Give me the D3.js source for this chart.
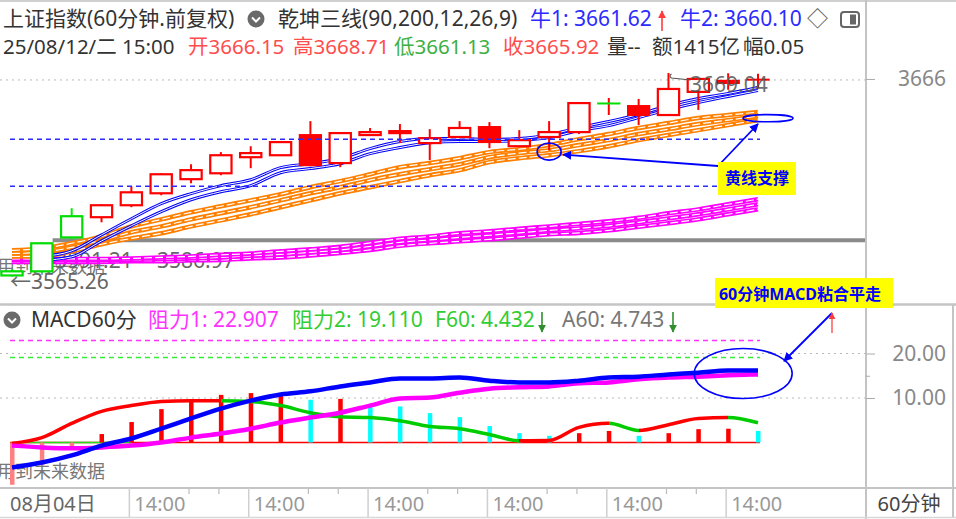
<!DOCTYPE html>
<html><head><meta charset="utf-8">
<script src="https://cdn.jsdelivr.net/npm/d3@7"></script>
<style>
html,body{margin:0;padding:0;background:#fff;overflow:hidden;}
svg{display:block;}
text{font-family:'Noto Sans','Noto Sans CJK SC',sans-serif;}
</style></head><body>
<svg id="c" width="956" height="519"></svg>
<script>
// ---------------- DATA ----------------
const times = ["08/04 14:00","08/04 15:00","08/05 10:30","08/05 11:30","08/05 14:00","08/05 15:00",
 "08/06 10:30","08/06 11:30","08/06 14:00","08/06 15:00","08/07 10:30","08/07 11:30","08/07 14:00","08/07 15:00",
 "08/08 10:30","08/08 11:30","08/08 14:00","08/08 15:00","08/11 10:30","08/11 11:30","08/11 14:00","08/11 15:00",
 "08/12 10:30","08/12 11:30","08/12 14:00","08/12 15:00"];
const openP  = [3567.9,3582.2,3596.0,3595.5,3601.6,3607.7,3614.9,3617.9,3626.1,3627.1,3637.9,3623.1,3637.4,3638.4,3633.3,3636.4,3642.0,3631.7,3636.4,3638.9,3653.5,3652.7,3647.6,3659.4,3664.0,3666.15];
const highP  = [3568.9,3582.7,3600.1,3602.1,3611.3,3617.9,3622.5,3628.7,3631.7,3634.3,3644.5,3638.4,3641.0,3643.0,3640.4,3644.5,3644.0,3639.9,3644.5,3654.2,3656.3,3655.8,3669.04,3666.0,3668.9,3668.71];
const lowP   = [3565.26,3567.3,3584.2,3592.9,3600.6,3606.7,3612.8,3616.9,3620.5,3626.9,3621.5,3621.0,3637.4,3633.3,3624.6,3636.4,3630.7,3631.7,3629.7,3637.9,3647.6,3642.5,3647.6,3650.2,3660.5,3661.13];
const closeP = [3565.8,3567.9,3585.2,3601.6,3608.2,3617.4,3619.5,3627.1,3628.2,3633.8,3621.5,3638.4,3638.9,3639.4,3635.8,3641.0,3633.3,3634.8,3638.9,3653.7,3653.0,3647.1,3660.9,3666.0,3665.0,3665.92];
// candle kind: g = green hollow, r = red hollow, s = red solid, x = green doji body with red wick
const kStyle = ['g','g','g','r','r','r','r','r','r','r','s','r','r','r','r','r','s','r','r','r','x','s','r','r','r','s'];
// 乾坤三线: blue (牛1 / 牛2), orange three lines, magenta three lines
const bull1 = [null,3575.5,3578.3,3586.5,3594.7,3602.4,3607.5,3611.6,3614.6,3620.8,3622.8,3625.4,3630.5,3634.1,3635.6,3635.6,3635.1,3635.6,3637.6,3641.2,3644.3,3647.9,3652.5,3656.0,3658.6,3661.62];
const bull2 = [null,3573.5,3575.3,3583.4,3591.1,3598.3,3604.4,3608.5,3611.6,3618.2,3620.3,3622.8,3627.9,3631.0,3633.5,3634.1,3634.1,3634.6,3636.1,3639.7,3642.2,3646.3,3650.4,3654.0,3657.1,3660.10];
const orange1 = [3578.6,3579.6,3582.2,3585.7,3590.8,3594.4,3598.0,3601.1,3604.1,3607.2,3610.8,3613.9,3617.4,3621.0,3623.1,3625.6,3628.7,3630.2,3632.3,3635.3,3637.9,3641.0,3643.5,3646.1,3647.6,3649.1];
const orange2 = [3577.0,3577.6,3580.1,3583.7,3587.8,3590.8,3594.4,3597.5,3600.6,3604.1,3607.7,3610.8,3614.4,3617.4,3620.0,3622.5,3626.1,3628.2,3629.7,3632.3,3634.8,3637.9,3640.4,3643.0,3645.0,3647.1];
const orange3 = [3575.5,3575.5,3578.1,3581.7,3584.7,3587.3,3590.8,3593.9,3597.0,3600.6,3604.1,3607.7,3610.8,3613.9,3616.9,3619.5,3623.6,3625.6,3627.1,3629.2,3631.7,3634.8,3637.4,3639.9,3642.5,3645.0];
const pink1 = [3574.2,3574.2,3574.2,3574.2,3574.5,3575.0,3575.5,3576.3,3577.0,3578.1,3579.1,3580.4,3582.4,3584.5,3585.7,3587.3,3588.3,3589.6,3590.8,3592.1,3593.4,3595.2,3597.5,3599.5,3602.1,3604.7];
const pink2 = [3573.5,3573.5,3573.5,3573.5,3573.7,3574.0,3574.5,3575.0,3575.8,3576.5,3577.6,3578.8,3580.6,3582.7,3583.9,3585.2,3586.3,3587.5,3588.8,3589.8,3591.1,3592.9,3594.9,3597.0,3599.5,3602.1];
const pink3 = [3572.7,3572.7,3572.7,3572.7,3573.0,3573.0,3573.5,3573.7,3574.5,3575.0,3576.0,3577.3,3578.8,3580.9,3582.2,3583.2,3584.2,3585.5,3586.8,3587.5,3588.8,3590.6,3592.4,3594.4,3597.0,3599.5];
const supportLevels = [3635.3, 3611.3];
const baseLevel = 3583.7;
const priceTicks = [3666];
// MACD panel
const difV  = [-5.6,-4.5,-2.9,-0.7,0.9,3.1,5.4,7.6,9.4,10.8,11.5,12.6,13.5,14.4,14.4,14.6,13.9,13.5,13.5,13.9,14.6,14.8,15.3,15.7,16.2,16.2];
const deaV  = [-0.7,-1.1,-1.3,-1.1,-0.7,0.0,1.1,2.0,3.1,4.5,5.6,6.7,8.3,9.9,10.1,11.2,12.1,12.4,12.6,13.3,13.5,14.2,14.6,14.8,15.1,15.3];
const f60V  = [-0.2,1.1,4.3,7.0,8.3,9.2,9.4,9.4,9.2,8.3,6.7,5.8,5.6,4.9,3.6,3.1,1.8,0.4,0.45,3.4,4.3,2.7,4.0,5.4,5.6,4.43];
const histV = [-9.5,-5.1,-1.2,1.9,4.6,7.5,9.1,10.7,11.1,10.7,9.6,9.8,8.2,8.1,6.6,5.7,3.7,2.1,1.5,2.1,2.6,1.5,2.1,3.0,3.1,2.6];
const histKind = ['p','p','p','r','r','r','r','r','r','r','c','r','c','c','c','c','c','c','c','r','r','c','r','r','r','c'];
const resist1 = 22.907, resist2 = 19.110;
const macdTicks = [20, 10];
const xLabelIdx = [0,4,8,12,16,20,24];
const xLabelText = ["08月04日","14:00","14:00","14:00","14:00","14:00","14:00"];

// ---------------- SCALES ----------------
const svg = d3.select('#c');
const x = d3.scalePoint().domain(times).range([12, 758]);
const yM = d3.scaleLinear().domain([3565.26, 3669.04]).range([276.5, 73]);
const yD = d3.scaleLinear().domain([0, 20]).range([442.5, 353.5]);
const step = x.step();
const PLOT_R = 866;

svg.append('rect').attr('width',956).attr('height',519).attr('fill','#fff');
const defs = svg.append('defs');
defs.append('clipPath').attr('id','cm').append('rect').attr('x',0).attr('y',60).attr('width',PLOT_R).attr('height',243);
defs.append('clipPath').attr('id','cd').append('rect').attr('x',0).attr('y',336).attr('width',PLOT_R).attr('height',151);
defs.append('clipPath').attr('id','ch').append('rect').attr('x',0).attr('y',30).attr('width',804).attr('height',30);
function mk(id, color){
  defs.append('marker').attr('id',id).attr('viewBox','0 0 10 10').attr('refX',9).attr('refY',5)
   .attr('markerWidth',5).attr('markerHeight',5).attr('orient','auto-start-reverse')
   .append('path').attr('d','M0,0L10,5L0,10z').attr('fill',color);
}
mk('ab','#0000ff'); mk('ar','#ff3b3b'); mk('ag','#2f8f2f');

// ---------------- MAIN PANEL ----------------
const gm = svg.append('g').attr('clip-path','url(#cm)');
priceTicks.forEach(v=>gm.append('line').attr('x1',0).attr('x2',PLOT_R).attr('y1',yM(v)+1).attr('y2',yM(v)+1)
  .attr('stroke','#b8b8b8').attr('stroke-width',1).attr('stroke-dasharray','2,4'));
const lineM = d3.line().defined(d=>d!=null).curve(d3.curveMonotoneX).x((d,i)=>x(times[i])).y(d=>yM(d));
function ribbon(g, vals, color, w, iw, dash){
  g.append('path').attr('d',lineM(vals)).attr('fill','none').attr('stroke',color).attr('stroke-width',w);
  const p = g.append('path').attr('d',lineM(vals)).attr('fill','none').attr('stroke','#fff').attr('stroke-width',iw);
  if(dash) p.attr('stroke-dasharray',dash);
}
// base gray level
gm.append('line').attr('x1',x(times[1])+step*0.36).attr('x2',PLOT_R).attr('y1',yM(baseLevel)).attr('y2',yM(baseLevel))
  .attr('stroke','#8a8a8a').attr('stroke-width',4);
// texts below lines
const lbl = (g,t,xx,yy,size,fill)=>g.append('text').attr('x',xx).attr('y',yy).attr('font-size',size).attr('fill',fill||'#666').text(t);
lbl(gm,'用到未来数据',-3,273,18,'#777');
lbl(gm,'3591.21',55,268,21,'#666');
lbl(gm,'3586.97',157,268,21,'#666');
ribbon(gm,pink3,'#ff00ff',4.5,1.2,'8,3');
ribbon(gm,pink2,'#ff00ff',4.5,1.2,'8,3');
ribbon(gm,pink1,'#ff00ff',4.5,1.2,'8,3');
ribbon(gm,orange3,'#ff8000',4.5,1.2,'8,3');
ribbon(gm,orange2,'#ff8000',4.5,1.2,'8,3');
ribbon(gm,orange1,'#ff8000',4.5,1.2,'8,3');
ribbon(gm,bull2,'#0000ff',3,1,null);
ribbon(gm,bull1,'#0000ff',3,1,null);
// candles
const cw = step*0.78;
times.forEach((t,i)=>{
  const k = kStyle[i], cx = x(t);
  const col = (k==='g') ? '#00ee00' : '#ff0000';
  const bodyCol = (k==='g'||k==='x') ? '#00dd00' : '#ff0000';
  gm.append('line').attr('x1',cx).attr('x2',cx).attr('y1',yM(highP[i])).attr('y2',yM(lowP[i])).attr('stroke',col).attr('stroke-width',2);
  const top = yM(Math.max(openP[i],closeP[i])), bot = yM(Math.min(openP[i],closeP[i]));
  const h = Math.max(bot-top, 2);
  if(k==='s'){
    gm.append('rect').attr('x',cx-cw/2).attr('y',top).attr('width',cw).attr('height',h).attr('fill',bodyCol);
  } else if(k==='x'){
    gm.append('rect').attr('x',cx-cw/2).attr('y',top-1).attr('width',cw).attr('height',2).attr('fill',bodyCol);
  } else {
    gm.append('rect').attr('x',cx-cw/2+1).attr('y',top).attr('width',cw-2).attr('height',h)
      .attr('fill','#fff').attr('stroke',bodyCol).attr('stroke-width',2.2);
  }
});
// dashed support lines
supportLevels.forEach(v=>gm.append('line').attr('x1',x(times[0])-2).attr('x2',x(times[25])+2).attr('y1',yM(v)).attr('y2',yM(v))
  .attr('stroke','#2a2aff').attr('stroke-width',1.5).attr('stroke-dasharray','5,4'));
// extreme labels
lbl(gm,'←3565.26',10,289,21,'#666');
lbl(gm,'3669.04',690,92,21,'#555').attr('opacity',0.85);
gm.append('path').attr('d',`M${x(times[22])+3},74 q-3,2 0,4 L${x(times[22])+22},80`).attr('fill','none').attr('stroke','#555').attr('stroke-width',1.2);

// annotation: yellow-line support
const e1x = x(times[18]), e1y = yM(orange2[18])+1.5;
svg.append('ellipse').attr('cx',e1x).attr('cy',e1y).attr('rx',12).attr('ry',8.5).attr('fill','none').attr('stroke','#0000ff').attr('stroke-width',1.6);
svg.append('ellipse').attr('cx',x(times[25])+10).attr('cy',yM(3646)).attr('rx',25).attr('ry',3.6).attr('fill','none').attr('stroke','#0000ff').attr('stroke-width',1.6);
svg.append('line').attr('x1',718).attr('y1',166).attr('x2',e1x+14).attr('y2',e1y+3).attr('stroke','#0000ff').attr('stroke-width',1.8).attr('marker-end','url(#ab)');
svg.append('line').attr('x1',718).attr('y1',166).attr('x2',758).attr('y2',124).attr('stroke','#0000ff').attr('stroke-width',1.8).attr('marker-end','url(#ab)');
svg.append('rect').attr('x',718).attr('y',162).attr('width',78).attr('height',33).attr('fill','#ffff00');
svg.append('text').attr('x',757).attr('y',184).attr('text-anchor','middle').attr('font-size',16).attr('font-weight','bold').attr('fill','#0000ff').text('黄线支撑');

// ---------------- MACD PANEL ----------------
const gd = svg.append('g').attr('clip-path','url(#cd)');
macdTicks.forEach(v=>gd.append('line').attr('x1',0).attr('x2',PLOT_R).attr('y1',yD(v)).attr('y2',yD(v))
  .attr('stroke','#b8b8b8').attr('stroke-width',1).attr('stroke-dasharray','2,4'));
gd.append('line').attr('x1',x(times[0])-2).attr('x2',x(times[25])+2).attr('y1',yD(resist1)).attr('y2',yD(resist1))
  .attr('stroke','#ff33ff').attr('stroke-width',1.5).attr('stroke-dasharray','5,4');
gd.append('line').attr('x1',x(times[0])-2).attr('x2',x(times[25])+2).attr('y1',yD(resist2)).attr('y2',yD(resist2))
  .attr('stroke','#33ee33').attr('stroke-width',1.5).attr('stroke-dasharray','5,4');
lbl(gd,'用到未来数据',-3,478,18,'#777');
gd.append('line').attr('x1',x(times[0])-2).attr('x2',x(times[25])+2).attr('y1',yD(0)).attr('y2',yD(0)).attr('stroke','#ff0000').attr('stroke-width',1.5);
gd.append('line').attr('x1',x(times[0])).attr('x2',x(times[4])).attr('y1',yD(0)).attr('y2',yD(0)).attr('stroke','#22dd22').attr('stroke-width',1.5);
const hc = {p:'#ff8080', r:'#ff0000', c:'#00ffff'};
times.forEach((t,i)=>{
  const y0 = yD(0), y1 = yD(histV[i]);
  gd.append('rect').attr('x',x(t)-2).attr('y',Math.min(y0,y1)).attr('width',4.5).attr('height',Math.abs(y1-y0)).attr('fill',hc[histKind[i]]);
});
// F60 line: smooth curve, coloured red while rising and green while falling
const grad = defs.append('linearGradient').attr('id','fgrad').attr('gradientUnits','userSpaceOnUse')
  .attr('x1',x(times[0])).attr('x2',x(times[25])).attr('y1',0).attr('y2',0);
const span = x(times[25]) - x(times[0]);
for(let i=0;i<times.length-1;i++){
  const c = f60V[i+1]>=f60V[i] ? '#ff0000' : '#00cc00';
  grad.append('stop').attr('offset',(x(times[i])-x(times[0]))/span).attr('stop-color',c);
  grad.append('stop').attr('offset',(x(times[i+1])-x(times[0]))/span).attr('stop-color',c);
}
const lineD = d3.line().curve(d3.curveMonotoneX).x((d,i)=>x(times[i])).y(d=>yD(d));
gd.append('path').attr('d',lineD(f60V)).attr('fill','none').attr('stroke','url(#fgrad)').attr('stroke-width',3.5);
gd.append('path').attr('d',lineD(deaV)).attr('fill','none').attr('stroke','#ff00ff').attr('stroke-width',4.5);
gd.append('path').attr('d',lineD(difV)).attr('fill','none').attr('stroke','#0000ff').attr('stroke-width',4.5);
svg.append('ellipse').attr('cx',x(times[24])+15).attr('cy',yD(15.5)).attr('rx',49).attr('ry',25).attr('fill','none').attr('stroke','#0000ff').attr('stroke-width',1.6);

// ---------------- FRAME / AXES ----------------
const bc = '#c4c4c4';
svg.append('line').attr('x1',0).attr('x2',956).attr('y1',1).attr('y2',1).attr('stroke','#d0d0d0').attr('stroke-width',2);
svg.append('line').attr('x1',PLOT_R).attr('x2',PLOT_R).attr('y1',0).attr('y2',519).attr('stroke',bc).attr('stroke-width',2);
svg.append('line').attr('x1',0).attr('x2',956).attr('y1',304.5).attr('y2',304.5).attr('stroke',bc).attr('stroke-width',2.5);
svg.append('line').attr('x1',0).attr('x2',956).attr('y1',488).attr('y2',488).attr('stroke',bc).attr('stroke-width',2);
svg.append('line').attr('x1',0).attr('x2',956).attr('y1',517.5).attr('y2',517.5).attr('stroke','#d8d8d8').attr('stroke-width',1.5);
svg.append('line').attr('x1',953).attr('x2',953).attr('y1',305).attr('y2',517).attr('stroke',bc).attr('stroke-width',2);

function styleAxis(g){
  g.select('.domain').remove();
  g.selectAll('line').attr('stroke','#aaa');
  g.selectAll('text').attr('x',80).attr('text-anchor','end').attr('font-size',21).attr('fill','#888')
    .attr('font-family',"'Noto Sans','Noto Sans CJK SC',sans-serif");
}
svg.append('g').attr('transform',`translate(${PLOT_R},0)`).call(d3.axisRight(yM).tickValues(priceTicks).tickSize(9).tickFormat(d3.format('d'))).call(styleAxis);
svg.append('g').attr('transform',`translate(${PLOT_R},0)`).call(d3.axisRight(yD).tickValues(macdTicks).tickSize(9).tickFormat(d3.format('.2f'))).call(styleAxis);
svg.append('g').attr('transform',`translate(${PLOT_R},0)`).call(d3.axisRight(yD).tickValues([15]).tickSize(4).tickFormat('')).call(styleAxis);

// x axis
xLabelIdx.forEach((idx,j)=>{
  const tx = x(times[idx]) - 2;
  if(j>0) svg.append('line').attr('x1',tx).attr('x2',tx).attr('y1',488).attr('y2',517).attr('stroke','#cfcfcf').attr('stroke-width',1.5);
  svg.append('text').attr('x', j===0 ? tx : tx+5).attr('y',511).attr('font-size',20).attr('fill', j===0?'#666':'#999').text(xLabelText[j]);
});
times.forEach((t,i)=>{ if(i>=4 && (i%4===2 || i%4===3)) svg.append('line').attr('x1',x(t)-2).attr('x2',x(t)-2).attr('y1',489).attr('y2',494).attr('stroke','#bbb').attr('stroke-width',1.2); });
svg.append('text').attr('x',909).attr('y',511).attr('text-anchor','middle').attr('font-size',20).attr('fill','#444').text('60分钟');

// ---------------- HEADERS ----------------
const hdr = (t,xx,yy,fill,g,sz)=> (g||svg).append('text').attr('x',xx).attr('y',yy).attr('font-size',sz||21).attr('fill',fill).text(t);
function icon(cx,cy){
  svg.append('circle').attr('cx',cx).attr('cy',cy).attr('r',8.5).attr('fill','#6a6a6a');
  svg.append('path').attr('d',`M${cx-4},${cy-1.5}L${cx},${cy+2.5}L${cx+4},${cy-1.5}`).attr('fill','none').attr('stroke','#fff').attr('stroke-width',2);
}
hdr('上证指数(60分钟.前复权)',3,26,'#333');
icon(256,19);
hdr('乾坤三线(90,200,12,26,9)',278,26,'#333');
hdr('牛1: 3661.62',530,26,'#2b2bff');
svg.append('line').attr('x1',662).attr('x2',662).attr('y1',31).attr('y2',11).attr('stroke','#ff3b3b').attr('stroke-width',1.6).attr('marker-end','url(#ar)');
hdr('牛2: 3660.10',680,26,'#2b2bff');
hdr('◇',807,26,'#555');
svg.append('rect').attr('x',841).attr('y',12).attr('width',18).attr('height',15).attr('rx',3).attr('fill','none').attr('stroke','#666').attr('stroke-width',2);
svg.append('rect').attr('x',850).attr('y',14.5).attr('width',6).attr('height',10).attr('fill','#666');
const h2 = svg.append('g').attr('clip-path','url(#ch)');
hdr('25/08/12/二 15:00',3,54,'#333',h2,20.5);
hdr('开3666.15',188,54,'#ff4d4d',h2,20.5);
hdr('高3668.71',293,54,'#ff4d4d',h2,20.5);
hdr('低3661.13',394,54,'#3cb043',h2,20.5);
hdr('收3665.92',503,54,'#ff4d4d',h2,20.5);
hdr('量--',607,54,'#333',h2,20.5);
hdr('额1415亿',652,54,'#333',h2,20.5);
hdr('幅0.05%',743,54,'#333',h2,20.5);

icon(12,320);
hdr('MACD60分',31,327,'#333');
hdr('阻力1: 22.907',148,327,'#ff33ff');
hdr('阻力2: 19.110',292,327,'#33cc33');
hdr('F60: 4.432',435,327,'#33cc33');
svg.append('line').attr('x1',542).attr('x2',542).attr('y1',312).attr('y2',332).attr('stroke','#2f8f2f').attr('stroke-width',1.6).attr('marker-end','url(#ag)');
hdr('A60: 4.743',562,327,'#777');
svg.append('line').attr('x1',673).attr('x2',673).attr('y1',312).attr('y2',332).attr('stroke','#2f8f2f').attr('stroke-width',1.6).attr('marker-end','url(#ag)');

// MACD annotation
svg.append('rect').attr('x',715).attr('y',278).attr('width',178).attr('height',30).attr('fill','#ffff00');
svg.append('text').attr('x',800).attr('y',300).attr('text-anchor','middle').attr('font-size',16).attr('font-weight','bold').attr('fill','#0000ff').text('60分钟MACD粘合平走');
svg.append('line').attr('x1',832).attr('y1',313).attr('x2',784).attr('y2',361).attr('stroke','#0000ff').attr('stroke-width',1.8).attr('marker-end','url(#ab)');
svg.append('line').attr('x1',832).attr('x2',832).attr('y1',333).attr('y2',313).attr('stroke','#ff5050').attr('stroke-width',1.4).attr('marker-end','url(#ar)');
</script>
</body></html>
